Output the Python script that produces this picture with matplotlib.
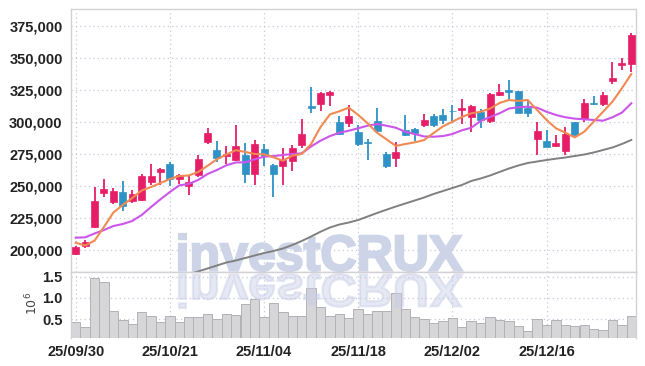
import matplotlib
matplotlib.use('Agg')
import matplotlib.pyplot as plt
from matplotlib.textpath import TextPath
from matplotlib.patches import PathPatch
from matplotlib.font_manager import FontProperties
from matplotlib.transforms import Affine2D

# trading days 2025/09/30 .. 2025/12/30
dates = ['25/09/30', '25/10/01', '25/10/02', '25/10/10', '25/10/13', '25/10/14', '25/10/15',
         '25/10/16', '25/10/17', '25/10/20', '25/10/21', '25/10/22', '25/10/23', '25/10/24',
         '25/10/27', '25/10/28', '25/10/29', '25/10/30', '25/10/31', '25/11/03', '25/11/04',
         '25/11/05', '25/11/06', '25/11/07', '25/11/10', '25/11/11', '25/11/12', '25/11/13',
         '25/11/14', '25/11/17', '25/11/18', '25/11/19', '25/11/20', '25/11/21', '25/11/24',
         '25/11/25', '25/11/26', '25/11/27', '25/11/28', '25/12/01', '25/12/02', '25/12/03',
         '25/12/04', '25/12/05', '25/12/08', '25/12/09', '25/12/10', '25/12/11', '25/12/12',
         '25/12/15', '25/12/16', '25/12/17', '25/12/18', '25/12/19', '25/12/22', '25/12/23',
         '25/12/24', '25/12/26', '25/12/29', '25/12/30']

opens = [196600, 203100, 218000, 244800, 237700, 245300, 238500, 238800, 253400, 261200,
         267200, 255700, 250200, 258600, 284600, 278100, 273400, 270300, 274200, 259600,
         278900, 266400, 265900, 269800, 282000, 312500, 314300, 321300, 299700, 299500,
         292200, 284300, 300800, 275000, 272100, 293750, 294500, 297700, 304700, 305500,
         308600, 309400, 304200, 308000, 301000, 321300, 324800, 324200, 311200, 287000,
         285200, 281500, 277600, 300000, 302300, 315100, 314100, 332000, 344500, 345600]
highs = [203000, 207800, 249000, 255200, 248700, 253900, 246600, 259400, 267000, 263700,
         268750, 259400, 257500, 274200, 295000, 284900, 281500, 297400, 283300, 285900,
         282800, 267000, 279400, 281800, 302300, 327100, 323600, 324000, 304400, 313000,
         297700, 287000, 310700, 276600, 284300, 305500, 295000, 306300, 306000, 309900,
         313300, 317700, 313000, 309900, 322900, 329400, 332800, 324500, 316400, 299800,
         293750, 289800, 295900, 300300, 317700, 320300, 323200, 347100, 349700, 369300]
lows = [196300, 201500, 217400, 241400, 235900, 230500, 236500, 238300, 250500, 250500,
        250000, 251300, 242700, 257300, 282700, 268500, 267000, 269500, 252100, 250500,
        265600, 241200, 250500, 261500, 279600, 306800, 308300, 312500, 289800, 296100,
        281300, 270300, 292400, 263800, 265100, 289100, 285200, 296300, 296300, 298200,
        299000, 298400, 292400, 295000, 299000, 320300, 317200, 307000, 303700, 274200,
        280500, 280200, 274200, 289500, 300300, 313000, 312300, 329400, 340600, 339300]
closes = [202300, 206200, 238300, 247700, 246100, 234600, 243750, 257600, 257600, 262900,
          255700, 258800, 253100, 271100, 291400, 272100, 274800, 281250, 259600, 282600,
          273700, 259600, 270300, 279700, 290600, 311200, 322600, 323400, 290600, 304700,
          282800, 283500, 293200, 265900, 276600, 289800, 291100, 301600, 297900, 301600,
          308300, 310700, 312500, 301600, 321900, 323400, 323700, 307300, 307300, 293000,
          280700, 283600, 290600, 289800, 314800, 314300, 321100, 334400, 346300, 368000]

ma5 = [205700, 203500, 207300, 218000, 229300, 235200, 240600, 246500, 249200, 252300,
       255500, 257800, 258200, 260900, 265800, 270900, 274600, 278000, 276600, 275000,
       274800, 272400, 269800, 273700, 275000, 282800, 296100, 306000, 308400, 311200,
       305500, 299000, 291600, 286500, 281300, 282800, 284100, 285900, 291400, 296600,
       300200, 303900, 306800, 308000, 310500, 314800, 317200, 316400, 317200, 309400,
       301600, 295100, 291600, 288000, 292400, 300200, 308000, 315900, 326300, 337500]
ma20 = [209600, 209900, 212900, 215600, 218750, 220300, 222700, 227300, 233600, 239600,
        245300, 250500, 251600, 254700, 259400, 262500, 266200, 268400, 268500, 270900,
        272900, 273400, 274200, 275000, 275500, 280900, 285400, 289000, 291600, 293200,
        295100, 297100, 298400, 297100, 295500, 292400, 290600, 288700, 288500, 289000,
        290600, 293500, 295500, 300800, 303900, 306800, 310500, 311500, 312000, 311200,
        308000, 305500, 303700, 302600, 302100, 301600, 301000, 303700, 307300, 314600]
ma60 = [None] * 12 + [
        181250, 183200, 185550, 187900, 190230, 191800, 193750, 195700, 197660, 199220,
        201170, 203900, 207030, 210550, 214300, 217580, 219920, 221480, 223440, 226170,
        228900, 231480, 233980, 236330, 238670, 241020, 243750, 246090, 248440, 250780,
        253910, 255860, 258200, 260940, 263670, 266020, 267970, 269140, 270310, 271330,
        272270, 273440, 274610, 276170, 278125, 280080, 282810, 285940]

volume = [0.42, 0.30, 1.46, 1.37, 0.68, 0.48, 0.38, 0.66, 0.56, 0.43,
          0.56, 0.43, 0.54, 0.54, 0.63, 0.49, 0.61, 0.59, 0.85, 0.97,
          0.54, 0.87, 0.66, 0.56, 0.56, 1.23, 0.78, 0.56, 0.61, 0.52,
          0.73, 0.62, 0.68, 0.68, 1.11, 0.73, 0.54, 0.49, 0.40, 0.45,
          0.52, 0.30, 0.45, 0.40, 0.54, 0.47, 0.45, 0.33, 0.21, 0.49,
          0.35, 0.47, 0.35, 0.33, 0.35, 0.26, 0.23, 0.47, 0.37, 0.56]

price_ticks = [200000, 225000, 250000, 275000, 300000, 325000, 350000, 375000]
vol_ticks = [0.5, 1.0, 1.5]
date_ticks = [0, 10, 20, 30, 40, 50]

UP = '#e61e68'
DOWN = '#2e92c6'
GRID = '#c6c9dc'
SPINE = '#d2d2d6'
fam = ['Liberation Sans', 'DejaVu Sans']

W, H = 645, 366
fig = plt.figure(figsize=(W / 100, H / 100), dpi=100)
ax = fig.add_axes([71 / W, 1 - 272.3 / H, 565 / W, 263.3 / H])
axv = fig.add_axes([71 / W, 1 - 337.7 / H, 565 / W, 65.4 / H], sharex=ax)

x = list(range(len(dates)))
colors = [UP if c >= o else DOWN for o, c in zip(opens, closes)]
bottoms = [min(o, c) for o, c in zip(opens, closes)]
heights = [max(abs(c - o), 600) for o, c in zip(opens, closes)]

ax.vlines(x, lows, highs, colors=colors, linewidth=1.3, zorder=2)
ax.bar(x, heights, bottom=bottoms, width=0.74, color=colors, edgecolor=colors,
       linewidth=0.5, zorder=3)

ax.plot(x, ma60, color='#808080', linewidth=1.4, zorder=4)
ax.plot(x, ma20, color='#cc55ea', linewidth=1.5, zorder=4)
ax.plot(x, ma5, color='#f08a52', linewidth=1.5, zorder=4)

axv.bar(x, volume, width=1.0, color='#d6d6d8', edgecolor='#b2b2b6', linewidth=0.7, zorder=2)

ax.set_xlim(-0.5, len(dates) - 0.5)
ax.set_ylim(182578, 388281)
axv.set_ylim(0.058, 1.604)

ax.set_yticks(price_ticks)
ax.set_yticklabels([f'{v:,}' for v in price_ticks])
axv.set_yticks(vol_ticks)
axv.set_yticklabels([f'{v:.1f}' for v in vol_ticks])
axv.set_xticks(date_ticks)
axv.set_xticklabels([dates[i] for i in date_ticks])
ax.tick_params(axis='x', labelbottom=False)

for a in (ax, axv):
    a.tick_params(length=0, labelsize=10.5, labelcolor='#222222', pad=6)
    for lab in a.get_xticklabels() + a.get_yticklabels():
        lab.set_family(fam)
        lab.set_fontweight('bold')
    a.grid(True, linestyle=(0, (1, 2.5)), color=GRID, linewidth=0.9, zorder=0)
    a.set_axisbelow(True)
    for s in a.spines.values():
        s.set_color(SPINE)
        s.set_linewidth(1.0)
axv.tick_params(axis='x', pad=5)
axv.spines['bottom'].set_visible(False)

fig.text(32 / W, 1 - 303 / H, r'$10^6$', rotation=90, ha='center', va='center',
         fontsize=9, color='#444444')

# watermark and its reflection (stroked to look heavier)
tp = TextPath((0, 0), 'investCRUX', size=1,
              prop=FontProperties(family=fam, weight='bold'))
ext = tp.get_extents()
fx0, fw = 179 / W, 283 / W
sx = fw / ext.width
main_tr = (Affine2D().translate(-ext.x0, -ext.y0)
           .scale(sx, (37 / H) / ext.height)
           .translate(fx0, 1 - 271 / H) + fig.transFigure)
ax.add_patch(PathPatch(tp, transform=main_tr, facecolor='#cdd4e8', edgecolor='#cdd4e8',
                       linewidth=1.6, zorder=1.5, clip_on=False))
refl_tr = (Affine2D().translate(-ext.x0, -ext.y0)
           .scale(sx, -(34 / H) / ext.height)
           .translate(fx0, 1 - 274 / H) + fig.transFigure)
axv.add_patch(PathPatch(tp, transform=refl_tr, facecolor='#c8cde6', edgecolor='#c8cde6',
                        linewidth=1.6, alpha=0.45, zorder=3, clip_on=True))

fig.savefig('out.png', dpi=100)
